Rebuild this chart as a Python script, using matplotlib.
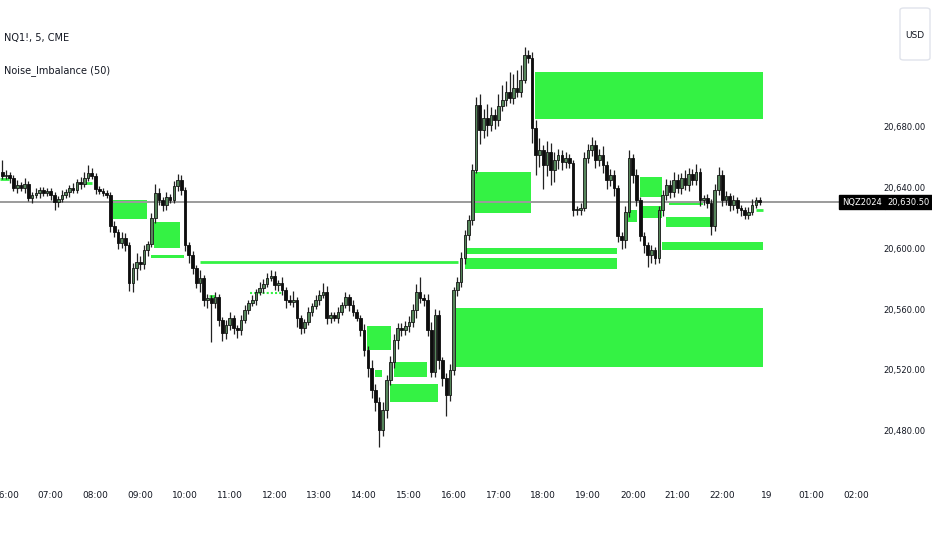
import numpy as np
import matplotlib
matplotlib.use("Agg")
import matplotlib.pyplot as plt
from matplotlib.patches import FancyBboxPatch

plt.rcParams['font.family'] = ['DejaVu Sans']

# 5 minute bars, index 0 = 06:00 (first bar is 05:55)
first_open = 20650.2
closes = [
    20647.6, 20648.3, 20646.3, 20639.7, 20641.7, 20639.7, 20642.3, 20633.1, 20635.1, 20636.4, 20638.4, 20636.4, 20637.8,
    20635.1, 20630.5, 20632.5, 20635.1, 20637.1, 20639.7, 20638.4, 20643.7, 20642.3, 20646.3, 20649.6, 20647.6,
    20639.1, 20637.8, 20636.4, 20635.1, 20614.7, 20610.8, 20603.5, 20606.8, 20602.2, 20577.2, 20587.1, 20591.0,
    20589.7, 20598.9, 20602.9, 20620.0, 20636.4, 20631.8, 20628.5, 20633.8, 20631.8, 20641.0, 20645.0, 20638.4,
    20602.2, 20595.6, 20587.1, 20577.2, 20580.5, 20566.0, 20567.3, 20564.1, 20568.0, 20552.9, 20544.3, 20549.6,
    20554.2, 20547.6, 20546.3, 20552.9, 20559.5, 20564.1, 20566.0, 20571.3, 20573.9, 20576.6, 20580.5, 20581.8,
    20575.9, 20577.2, 20572.6, 20566.0, 20564.7, 20566.0, 20554.2, 20547.6, 20551.6, 20558.2, 20562.1, 20566.0,
    20569.3, 20571.3, 20554.2, 20556.2, 20554.2, 20558.2, 20562.8, 20568.0, 20562.8, 20558.2, 20554.2, 20546.3,
    20533.1, 20521.3, 20506.8, 20498.9, 20480.5, 20493.7, 20513.4, 20525.2, 20539.7, 20547.6, 20546.3, 20548.9,
    20551.6, 20559.5, 20571.3, 20567.3, 20566.0, 20546.3, 20518.7, 20556.2, 20526.6, 20514.7, 20503.5, 20520.0,
    20572.6, 20577.9, 20593.7, 20608.8, 20618.7, 20651.6, 20694.3, 20677.9, 20685.8, 20681.2, 20687.7, 20684.5,
    20693.7, 20697.6, 20702.9, 20698.9, 20705.5, 20702.9, 20710.8, 20727.2, 20725.2, 20679.2, 20661.4, 20664.7,
    20654.8, 20663.4, 20651.6, 20658.1, 20661.4, 20656.8, 20659.4, 20656.2, 20625.2, 20625.2, 20626.6, 20659.4,
    20664.7, 20668.0, 20658.1, 20661.4, 20654.8, 20645.0, 20648.3, 20639.7, 20608.1, 20605.5, 20623.9, 20659.4,
    20648.3, 20631.8, 20608.1, 20602.2, 20595.6, 20598.9, 20593.7, 20625.2, 20635.1, 20641.7, 20637.1, 20645.0,
    20639.7, 20646.3, 20641.7, 20648.9, 20645.0, 20650.2, 20631.8, 20633.1, 20629.8, 20614.7, 20638.4, 20648.3,
    20631.8, 20634.5, 20628.5, 20631.8, 20626.6, 20625.2, 20622.0, 20623.9, 20628.5, 20631.8, 20630.5,
]
wick_up = [
    8, 3, 2, 2, 3, 2, 4, 2, 2, 3, 2, 2, 2,
    2, 2, 2, 3, 2, 2, 3, 2, 3, 4, 5, 3,
    2, 2, 2, 2, 2, 3, 2, 4, 3, 2, 3, 6,
    4, 3, 2, 3, 6, 3, 2, 3, 2, 3, 4, 3,
    2, 2, 3, 2, 5, 2, 3, 2, 3, 2, 2, 3,
    4, 2, 2, 3, 3, 2, 3, 2, 4, 3, 3, 4,
    3, 2, 4, 2, 3, 6, 2, 2, 2, 3, 2, 3,
    3, 6, 4, 2, 2, 3, 2, 3, 2, 3, 2, 2,
    4, 3, 5, 4, 3, 5, 3, 4, 4, 3, 3, 3,
    4, 4, 5, 10, 3, 4, 5, 4, 3, 2, 3, 4,
    2, 3, 4, 3, 3, 4, 5, 7, 6, 9, 5, 4,
    8, 10, 7, 13, 9, 12, 10, 5, 3, 4, 5, 8,
    3, 7, 6, 5, 4, 3, 4, 3, 2, 3, 3, 4,
    4, 5, 3, 4, 6, 3, 4, 3, 2, 3, 4, 5,
    3, 4, 2, 3, 2, 3, 2, 3, 3, 4, 3, 5,
    4, 3, 5, 4, 3, 5, 3, 2, 3, 3, 4, 5,
    3, 3, 2, 3, 2, 2, 2, 3, 4, 2, 2,
]
wick_dn = [
    2, 2, 3, 2, 3, 2, 3, 2, 3, 2, 3, 2, 2,
    3, 5, 3, 2, 2, 3, 2, 2, 3, 2, 2, 2,
    3, 2, 2, 2, 4, 3, 4, 3, 4, 5, 6, 8,
    4, 3, 4, 2, 3, 3, 4, 3, 2, 2, 3, 3,
    4, 5, 4, 3, 6, 4, 5, 26, 3, 4, 5, 4,
    3, 4, 5, 3, 2, 3, 2, 3, 2, 3, 2, 2,
    3, 4, 3, 5, 2, 3, 6, 4, 3, 2, 3, 2,
    3, 2, 4, 3, 2, 3, 2, 2, 4, 3, 2, 4,
    4, 6, 5, 6, 11, 4, 5, 3, 4, 6, 4, 3,
    4, 3, 5, 3, 4, 4, 3, 3, 6, 5, 14, 4,
    3, 4, 3, 4, 3, 3, 2, 9, 5, 7, 4, 6,
    4, 3, 4, 3, 4, 3, 3, 2, 3, 10, 13, 8,
    16, 7, 10, 8, 6, 5, 4, 3, 4, 3, 3, 2,
    3, 4, 5, 4, 5, 6, 4, 5, 4, 6, 5, 3,
    5, 4, 3, 5, 8, 5, 4, 3, 4, 3, 4, 3,
    3, 4, 3, 4, 3, 3, 4, 3, 3, 6, 3, 3,
    4, 3, 4, 3, 3, 4, 3, 3, 2, 2, 2,
]

# imbalance boxes (bar index start/end, top/bottom price)
box_x0 = [141.8, 125.7, 170.0, 170.2, 166.8, 177.0, 177.7, 175.9, 123.0, 123.0, 28.7, 39.7, 38.9, 96.8, 98.9, 104.0, 103.0, 120.6]
box_x1 = [203.0, 140.8, 175.9, 175.9, 169.2, 189.0, 186.9, 203.0, 163.8, 163.8, 37.8, 46.6, 47.7, 103.2, 100.8, 112.9, 115.8, 203.0]
box_top = [20716.0, 20650.2, 20647.0, 20627.9, 20625.2, 20620.6, 20630.2, 20604.2, 20600.2, 20593.7, 20631.8, 20617.4, 20595.6, 20548.9, 20520.0, 20525.2, 20510.8, 20560.8]
box_bot = [20685.1, 20623.3, 20633.8, 20620.0, 20617.4, 20614.1, 20628.5, 20598.9, 20596.3, 20586.4, 20619.3, 20600.2, 20593.7, 20533.1, 20515.4, 20515.4, 20498.9, 20522.0]

# thin imbalance levels
lvl_price = [20591.0, 20645.6, 20625.0, 20643.0, 20568.7]
lvl_x0 = [52.0, -1.6, 201.0, 21.0, 54.5]
lvl_x1 = [121.2, 0.8, 203.0, 23.0, 56.0]
dot_price = [20570.6]
dot_x0 = [65.4]
dot_x1 = [74.0]

tick_pos = [0, 12, 24, 36, 48, 60, 72, 84, 96, 108, 120, 132, 144, 156, 168, 180, 192, 204, 216, 228]
tick_lab = ['06:00', '07:00', '08:00', '09:00', '10:00', '11:00', '12:00', '13:00', '14:00', '15:00',
            '16:00', '17:00', '18:00', '19:00', '20:00', '21:00', '22:00', '19', '01:00', '02:00']
price_ticks = [20480, 20520, 20560, 20600, 20640, 20680]

GREEN = '#34f244'
UP = '#55855a'
DOWN = '#0d0d0d'

c = np.array(closes)
o = np.concatenate([[first_open], c[:-1]])
idx = np.arange(-1, len(c) - 1)
hi = np.maximum(o, c) + np.array(wick_up)
lo = np.minimum(o, c) - np.array(wick_dn)
bot = np.minimum(o, c)
h = np.maximum(np.abs(c - o), 0.5)
up = c >= o

fig = plt.figure(figsize=(9.32, 5.5), dpi=100)
ax = fig.add_axes([0, 80 / 550, 870 / 932, 470 / 550])

for x0, x1, t, b in zip(box_x0, box_x1, box_top, box_bot):
    ax.bar(x0, t - b, width=x1 - x0, bottom=b, align='edge', color=GREEN, lw=0, zorder=1)
ax.hlines(lvl_price, lvl_x0, lvl_x1, color=GREEN, lw=2, zorder=1)
ax.hlines(dot_price, dot_x0, dot_x1, color=GREEN, lw=1.5, linestyles=(0, (1, 1)), zorder=1)

ax.axhline(c[-1], color='#9b9b9b', lw=1.4, zorder=2)

ax.vlines(idx, lo, hi, color='#222222', lw=0.9, zorder=3)
ax.bar(idx[up], h[up], bottom=bot[up], width=0.72, color=UP, edgecolor='#141414', lw=0.6, zorder=4)
ax.bar(idx[~up], h[~up], bottom=bot[~up], width=0.72, color=DOWN, edgecolor=DOWN, lw=0.6, zorder=4)

ax.set_xlim(-1.61, 231.6)
ax.set_ylim(20454.2, 20763.4)
for s in ax.spines.values():
    s.set_visible(False)

ax.set_xticks(tick_pos)
ax.set_xticklabels(tick_lab, fontsize=6.5, color='#131722')
ax.tick_params(axis='x', length=0, pad=15)
ax.yaxis.tick_right()
ax.set_yticks(price_ticks)
ax.set_yticklabels([f'{p:,.2f}' for p in price_ticks], fontsize=6, color='#131722')
ax.tick_params(axis='y', length=0, pad=10)

# last price labels
ax.text(1.0688, c[-1], f'{c[-1]:,.2f}', transform=ax.get_yaxis_transform(), ha='right', va='center',
        fontsize=6, color='white', clip_on=False, zorder=6,
        bbox=dict(boxstyle='square,pad=0.35', fc='black', ec='black'))
ax.text(1.0135, c[-1], 'NQZ2024', transform=ax.get_yaxis_transform(), ha='right', va='center',
        fontsize=6, color='white', clip_on=False, zorder=6,
        bbox=dict(boxstyle='square,pad=0.35', fc='black', ec='black'))

fig.text(4 / 932, 1 - 38 / 550, 'NQ1!, 5, CME', fontsize=7, va='center', color='#131722')
fig.text(4 / 932, 1 - 71 / 550, 'Noise_Imbalance (50)', fontsize=7, va='center', color='#131722')

fig.patches.append(FancyBboxPatch((900 / 932, 1 - 60 / 550), 30 / 932, 52 / 550,
                                  boxstyle='round,pad=0,rounding_size=0.004', transform=fig.transFigure,
                                  fc='white', ec='#e0e3eb', lw=1))
fig.text(915 / 932, 1 - 36 / 550, 'USD', fontsize=6.5, ha='center', va='center', color='#131722')

fig.savefig('out.png', dpi=100)
